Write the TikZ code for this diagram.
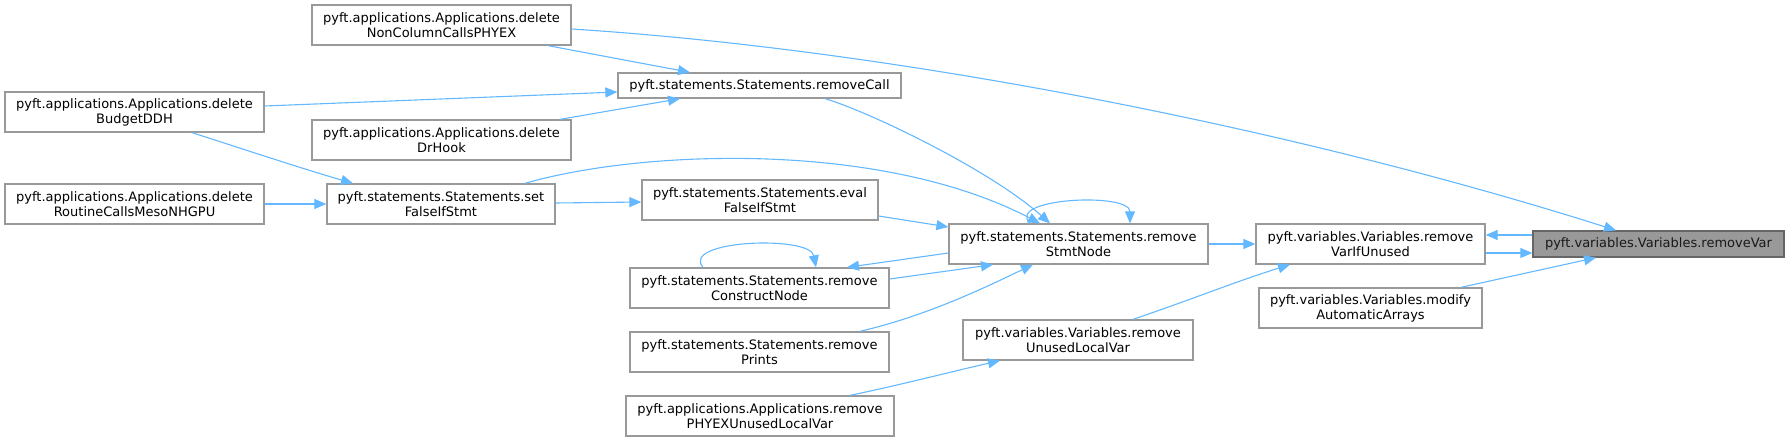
\documentclass[tikz,border=0pt]{standalone}
\usepackage{fontspec}
\setmainfont{DejaVu Sans}
\usetikzlibrary{calc,arrows.meta}
\definecolor{edgeblue}{HTML}{63B8FF}
\definecolor{boxgray}{HTML}{999999}
\definecolor{rootborder}{HTML}{666666}
\tikzset{
  fn/.style={rectangle, draw=boxgray, line width=1.3pt, fill=white, inner sep=0pt,
    align=center, minimum height=40pt, font=\fontsize{13}{15}\selectfont},
  rootfn/.style={fn, fill=boxgray, draw=rootborder, text=black!90},
  e/.style={draw=edgeblue, line width=1.1pt, -{Triangle[length=12pt,width=10pt]}},
}
\begin{document}
\begin{tikzpicture}[x=1pt,y=-1pt]
\useasboundingbox (0,0) rectangle (1789,441);

% nodes
\node[fn, minimum width=259pt] (nc) at (441.5,25) {pyft.applications.Applications.delete\\NonColumnCallsPHYEX};
\node[fn, minimum width=259pt] (bd) at (134.5,112) {pyft.applications.Applications.delete\\BudgetDDH};
\node[fn, minimum width=259pt] (dh) at (441.5,140) {pyft.applications.Applications.delete\\DrHook};
\node[fn, minimum width=259pt] (rc) at (134.5,204) {pyft.applications.Applications.delete\\RoutineCallsMesoNHGPU};
\node[fn, minimum width=228pt] (sf) at (441,204) {pyft.statements.Statements.set\\FalseIfStmt};
\node[fn, minimum width=283pt, minimum height=25pt] (call) at (759.5,85.5) {pyft.statements.Statements.removeCall};
\node[fn, minimum width=236pt] (ev) at (760,200) {pyft.statements.Statements.eval\\FalseIfStmt};
\node[fn, minimum width=259pt] (sn) at (1078.5,244) {pyft.statements.Statements.remove\\StmtNode};
\node[fn, minimum width=259pt] (cn) at (759.5,288) {pyft.statements.Statements.remove\\ConstructNode};
\node[fn, minimum width=259pt] (pr) at (759.5,352) {pyft.statements.Statements.remove\\Prints};
\node[fn, minimum width=268pt] (px) at (760,416) {pyft.applications.Applications.remove\\PHYEXUnusedLocalVar};
\node[fn, minimum width=230pt] (ul) at (1078,340) {pyft.variables.Variables.remove\\UnusedLocalVar};
\node[fn, minimum width=229pt] (vu) at (1370.5,244) {pyft.variables.Variables.remove\\VarIfUnused};
\node[fn, minimum width=223pt] (ma) at (1370.5,308) {pyft.variables.Variables.modify\\AutomaticArrays};
\node[rootfn, minimum width=251pt, minimum height=26pt] (rv) at (1658.5,244) {pyft.variables.Variables.removeVar};

% edges
\draw[e] ($(nc.south)+(106.5,0)$) -- ($(call.north)+(-69.5,0)$);
\draw[e] ($(nc.east)+(0,4)$) .. controls (900,50) and (1300,130) .. ($(rv.north)+(-42.5,0)$);
\draw[e] ($(bd.east)+(0,-6)$) -- ($(call.west)+(0,6.5)$);
\draw[e] ($(dh.north)+(118.5,0)$) -- ($(call.south)+(-79.5,0)$);
\draw[e] ($(bd.south)+(57.5,0)$) .. controls (240,148) and (300,168) .. ($(sf.north)+(-88,0)$);
\draw[e] (rc.east) -- (sf.west);
\draw[e] ($(sf.east)+(0,-1)$) -- ($(ev.west)+(0,2)$);
\draw[e] ($(sf.north)+(84,0)$) .. controls (640,150) and (880,140) .. ($(sn.north)+(-38.5,0)$);
\draw[e] ($(call.south)+(65.5,0)$) .. controls (870,112) and (990,170) .. ($(sn.north)+(-28.5,0)$);
\draw[e] ($(ev.east)+(0,16)$) -- ($(sn.west)+(0,-17)$);
\draw[e] ($(sn.west)+(0,9)$) -- ($(cn.north)+(87.5,0)$);
\draw[e] ($(cn.east)+(0,-9)$) -- ($(sn.south)+(-85.5,0)$);
\draw[e] ($(cn.north)+(-56.5,0)$) .. controls (680,240) and (810,235) .. ($(cn.north)+(56.5,0)$);
\draw[e] ($(pr.north)+(100.5,0)$) .. controls (930,315) and (990,285) .. ($(sn.south)+(-45.5,0)$);
\draw[e] ($(sn.north)+(-48.5,0)$) .. controls (1005,198) and (1130,192) .. ($(sn.north)+(51.5,0)$);
\draw[e] (sn.east) -- (vu.west);
\draw[e] ($(ul.north)+(55,0)$) .. controls (1190,300) and (1240,280) .. ($(vu.south)+(-80.5,0)$);
\draw[e] ($(px.north)+(90,0)$) .. controls (900,385) and (950,372) .. ($(ul.south)+(-78,0)$);
\draw[e] ($(rv.west)+(0,-9)$) -- ($(vu.east)+(0,-9)$);
\draw[e] ($(vu.east)+(0,9)$) -- ($(rv.west)+(0,9)$);
\draw[e] ($(ma.north)+(90.5,0)$) -- ($(rv.south)+(-62.5,0)$);
\end{tikzpicture}
\end{document}
